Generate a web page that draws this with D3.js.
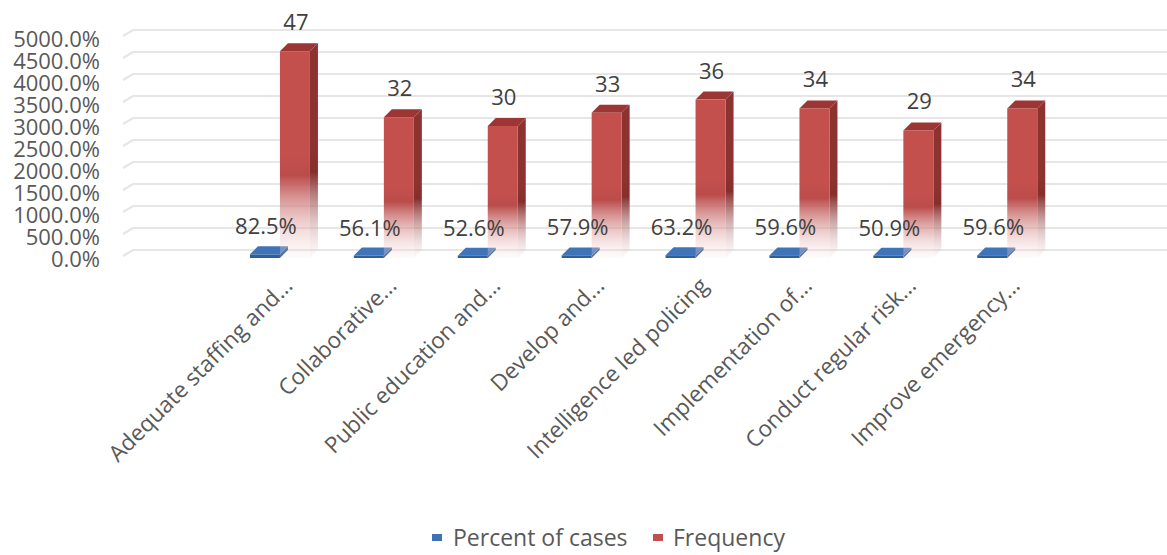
<!DOCTYPE html>
<html>
<head>
<meta charset="utf-8">
<script src="https://cdn.jsdelivr.net/npm/d3@7"></script>
<style>
  body { margin: 0; background: #fff; }
  svg text { font-family: "Open Sans", "Noto Sans", sans-serif; }
</style>
</head>
<body>
<svg id="chart" width="1167" height="555"></svg>
<script>
// Survey responses: share of cases and raw frequency per strategy
const categories = [
  "Adequate staffing and...",
  "Collaborative...",
  "Public education and...",
  "Develop and...",
  "Intelligence led policing",
  "Implementation of...",
  "Conduct regular risk...",
  "Improve emergency..."
];
const percentOfCases = [0.825, 0.561, 0.526, 0.579, 0.632, 0.596, 0.509, 0.596];
const frequency = [47, 32, 30, 33, 36, 34, 29, 34];
const yTicks = [0, 5, 10, 15, 20, 25, 30, 35, 40, 45, 50];
const seriesNames = ["Percent of cases", "Frequency"];

const svg = d3.select("#chart");
const W = 1167;

// 3D projection offsets
const depthX = 8, depthY = 8;     // bar depth (front face is shifted down-left)
const wallX = 10, wallY = 6;      // slant of the side wall on the gridlines

// back-wall value scale
const y = d3.scaleLinear().domain([0, 50]).range([250, 30]);
const yFront = v => y(v) + depthY;

const x = d3.scaleBand().domain(categories).range([228, 228 + 8 * 103.9]);
const barW = 30;
const center = c => x(c) + x.bandwidth() / 2;

const fmtPct = d3.format(".1%");

// gradients for the fading red columns
const defs = svg.append("defs");
function fade(id, color, endColor) {
  const g = defs.append("linearGradient").attr("id", id)
    .attr("x1", 0).attr("y1", 0).attr("x2", 0).attr("y2", 1);
  g.append("stop").attr("offset", 0).attr("stop-color", color);
  g.append("stop").attr("offset", 0.5).attr("stop-color", color);
  g.append("stop").attr("offset", 0.6).attr("stop-color", d3.color(color).darker(0.15));
  g.append("stop").attr("offset", 1).attr("stop-color", endColor).attr("stop-opacity", 0.2);
}
fade("redFront", "#c4504e", "#fbeaea");
fade("redSide", "#8c3230", "#f3e0e0");

// gridlines on the back wall with a slanted side-wall stub
svg.append("g").selectAll("path").data(yTicks).join("path")
  .attr("d", v => `M${133 - wallX},${y(v) + wallY}L133,${y(v)}L${W},${y(v)}`)
  .attr("fill", "none")
  .attr("stroke", "#e6e6e6")
  .attr("stroke-width", 2.2);

// value axis labels (aligned to the front plane)
const axis = d3.axisLeft(d3.scaleLinear().domain([0, 50]).range([250 + 9.5, 30 + 9.5]))
  .tickValues(yTicks).tickFormat(fmtPct).tickSize(0).tickPadding(0);
const axG = svg.append("g").attr("transform", "translate(100,0)").call(axis);
axG.select(".domain").remove();
axG.selectAll("text")
  .attr("font-size", 22)
  .attr("fill", "#595959")
  .attr("font-family", "\"Open Sans\", sans-serif");

// one 3D column: front, side and top faces
function column(g, x0, v, colors) {
  const x1 = x0 + barW;
  g.append("path")
    .attr("d", `M${x1},${yFront(v)}L${x1 + depthX},${y(v)}L${x1 + depthX},${y(0)}L${x1},${yFront(0)}Z`)
    .attr("fill", colors.side);
  g.append("path")
    .attr("d", `M${x0},${yFront(v)}L${x1},${yFront(v)}L${x1 + depthX},${y(v)}L${x0 + depthX},${y(v)}Z`)
    .attr("fill", colors.top);
  g.append("rect")
    .attr("x", x0).attr("y", yFront(v))
    .attr("width", barW).attr("height", yFront(0) - yFront(v))
    .attr("fill", colors.front);
}

const blueColors = { front: "#2f5e9c", side: "#27507f", top: "#3f74b8" };
const redColors = { front: "url(#redFront)", side: "url(#redSide)", top: "#9c3634" };

const bars = svg.append("g");
categories.forEach((c, i) => {
  const g = bars.append("g");
  column(g, center(c) - barW, percentOfCases[i], blueColors);
  column(g, center(c), frequency[i], redColors);
});

// data labels
const labels = svg.append("g")
  .attr("font-size", 22).attr("fill", "#404040").attr("text-anchor", "middle");
categories.forEach((c, i) => {
  labels.append("text")
    .attr("x", center(c) - barW / 2 + 1)
    .attr("y", y(percentOfCases[i]) - 12)
    .text(fmtPct(percentOfCases[i]));
  labels.append("text")
    .attr("x", center(c) + barW / 2 + 1)
    .attr("y", y(frequency[i]) - 13)
    .text(frequency[i]);
});

// rotated category labels
svg.append("g").selectAll("text").data(categories).join("text")
  .attr("transform", c => `translate(${center(c) + 14},${287}) rotate(-45)`)
  .attr("text-anchor", "end")
  .attr("font-size", 22.5)
  .attr("fill", "#595959")
  .text(c => c);

// legend
const legend = svg.append("g").attr("font-size", 23).attr("fill", "#595959");
const legendItems = [
  { name: seriesNames[0], color: "#3f72b5", x: 432, tx: 453 },
  { name: seriesNames[1], color: "#c0504d", x: 653, tx: 673 }
];
legendItems.forEach(d => {
  legend.append("rect").attr("x", d.x).attr("y", 534).attr("width", 10).attr("height", 7).attr("fill", d.color);
  legend.append("text").attr("x", d.tx).attr("y", 546).text(d.name);
});
</script>
</body>
</html>
